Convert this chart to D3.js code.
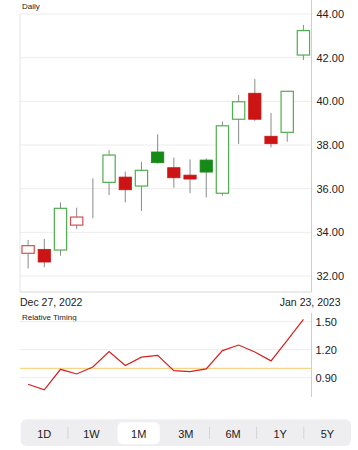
<!DOCTYPE html>
<html>
<head>
<meta charset="utf-8">
<script src="https://cdn.jsdelivr.net/npm/d3@7"></script>
<style>
  body { margin: 0; background: #fff; font-family: "Liberation Sans", Arial, sans-serif; }
  svg { display: block; }
  .grid line { stroke: #ececec; }
  .axis text { fill: #222; font-size: 11px; }
</style>
</head>
<body>
<div id="chart"></div>
<script>
// trading days
var dates = ["Dec 27, 2022", "Dec 28, 2022", "Dec 29, 2022", "Dec 30, 2022", "Jan 3, 2023", "Jan 4, 2023",
    "Jan 5, 2023", "Jan 6, 2023", "Jan 9, 2023", "Jan 10, 2023", "Jan 11, 2023", "Jan 12, 2023",
    "Jan 13, 2023", "Jan 17, 2023", "Jan 18, 2023", "Jan 19, 2023", "Jan 20, 2023", "Jan 23, 2023"];
var opens  = [33.04, 33.22, 33.19, 34.33, 35.68, 36.29, 36.53, 36.12, 37.68, 36.96, 36.62, 37.31, 35.79, 39.18, 40.37, 38.40, 38.58, 42.12];
var highs  = [33.65, 33.69, 35.37, 35.13, 36.47, 37.77, 36.78, 37.23, 38.49, 37.42, 37.34, 37.39, 39.07, 40.29, 41.02, 39.47, 40.46, 43.50];
var lows   = [32.35, 32.40, 32.93, 34.14, 34.64, 35.71, 35.37, 34.98, 37.15, 36.04, 35.79, 35.60, 35.68, 38.05, 39.10, 37.89, 38.15, 41.89];
var closes = [33.39, 32.64, 35.10, 34.70, 35.68, 37.54, 35.95, 36.84, 37.19, 36.50, 36.44, 36.76, 38.88, 39.98, 39.18, 38.06, 40.46, 43.24];
var prevClose0 = 33.60;
var timing = [0.83, 0.77, 0.99, 0.94, 1.015, 1.18, 1.03, 1.12, 1.14, 0.975, 0.965, 0.995, 1.19, 1.25, 1.175, 1.08, 1.30, 1.525];
var priceTicks = [32, 34, 36, 38, 40, 42, 44];
var timingTicks = [0.9, 1.2, 1.5];
var ranges = ["1D", "1W", "1M", "3M", "6M", "1Y", "5Y"];
var selectedRange = "1M";

var W = 358, H = 450;
var left = 20, right = 311.5;

var svg = d3.select("#chart").append("svg")
    .attr("width", W)
    .attr("height", H);

var x = d3.scaleBand()
    .domain(dates)
    .range([left, right])
    .paddingInner(0.18)
    .paddingOuter(0.09);

// ---- price panel ----
var y = d3.scaleLinear().domain([32, 44]).range([276, 14]);
var priceBottom = 292;

svg.append("text")
    .attr("x", 22).attr("y", 9)
    .style("font-size", "8px").style("fill", "#222")
    .text("Daily");

svg.append("g").attr("class", "grid")
    .selectAll("line").data(priceTicks).join("line")
    .attr("x1", left).attr("x2", right)
    .attr("y1", d => y(d)).attr("y2", d => y(d));

// frame
svg.append("line").attr("x1", left).attr("x2", left).attr("y1", 14).attr("y2", priceBottom).attr("stroke", "#e4e4e4");
svg.append("line").attr("x1", left).attr("x2", right).attr("y1", priceBottom).attr("y2", priceBottom).attr("stroke", "#d8d8d8");

var yAxis = d3.axisRight(y).tickValues(priceTicks).tickFormat(d3.format(".2f")).tickSize(0).tickPadding(5);
var gy = svg.append("g").attr("class", "axis")
    .attr("transform", "translate(" + right + ",0)")
    .call(yAxis);
gy.select(".domain").remove();
svg.append("line").attr("x1", right).attr("x2", right).attr("y1", 0).attr("y2", priceBottom).attr("stroke", "#cfcfcf");

var candles = dates.map((d, i) => ({
    date: d, open: opens[i], high: highs[i], low: lows[i], close: closes[i],
    prev: i === 0 ? prevClose0 : closes[i - 1]
}));

var upColor = "#168a16", downColor = "#cc1414";
var hollowUp = "#4fae4f", hollowDown = "#d65050";

var cg = svg.append("g");
cg.selectAll(".wick").data(candles).join("line")
    .attr("class", "wick")
    .attr("x1", d => x(d.date) + x.bandwidth() / 2)
    .attr("x2", d => x(d.date) + x.bandwidth() / 2)
    .attr("y1", d => y(d.high))
    .attr("y2", d => y(d.low))
    .attr("stroke", "#8a8a8a");

cg.selectAll(".body").data(candles).join("rect")
    .attr("class", "body")
    .attr("x", d => x(d.date) + 0.5)
    .attr("width", x.bandwidth() - 1)
    .attr("y", d => y(Math.max(d.open, d.close)))
    .attr("height", d => Math.abs(y(d.open) - y(d.close)))
    .attr("fill", d => d.close >= d.open ? "#fff" : (d.close >= d.prev ? upColor : downColor))
    .attr("stroke", d => {
        var up = d.close >= d.prev;
        if (d.close === d.open) return "#b5deb5";
        if (d.close >= d.open) return up ? hollowUp : hollowDown;
        return up ? upColor : downColor;
    })
    .attr("stroke-width", d => d.close === d.open ? 0.6 : (d.close > d.open ? 1.2 : 0.8));

svg.append("text").attr("x", left).attr("y", 306)
    .style("font-size", "10.5px").style("fill", "#222")
    .text(dates[0]);
svg.append("text").attr("x", 340.5).attr("y", 306).attr("text-anchor", "end")
    .style("font-size", "10.5px").style("fill", "#222")
    .text(dates[dates.length - 1]);

// ---- relative timing panel ----
var y2 = d3.scaleLinear().domain([0.9, 1.5]).range([377.7, 321.7]);

svg.append("text")
    .attr("x", 22).attr("y", 320)
    .style("font-size", "8px").style("fill", "#222")
    .text("Relative Timing");

svg.append("g").attr("class", "grid")
    .selectAll("line").data(timingTicks).join("line")
    .attr("x1", left).attr("x2", right)
    .attr("y1", d => y2(d)).attr("y2", d => y2(d));

svg.append("line")
    .attr("x1", left).attr("x2", right)
    .attr("y1", y2(1)).attr("y2", y2(1))
    .attr("stroke", "#f7d488").attr("stroke-width", 1.2);

var gy2 = svg.append("g").attr("class", "axis")
    .attr("transform", "translate(" + right + ",0)")
    .call(d3.axisRight(y2).tickValues(timingTicks).tickFormat(d3.format(".2f")).tickSize(0).tickPadding(4));
gy2.select(".domain").remove();
svg.append("line").attr("x1", right).attr("x2", right).attr("y1", 313).attr("y2", 397).attr("stroke", "#cfcfcf");

var line = d3.line()
    .x((d, i) => x(dates[i]) + x.bandwidth() / 2)
    .y(d => y2(d));

svg.append("path")
    .datum(timing)
    .attr("d", line)
    .attr("fill", "none")
    .attr("stroke", "#d42020")
    .attr("stroke-width", 1.2);

// ---- range selector ----
var seg = d3.scaleBand().domain(ranges).range([20.7, 351]);
var bar = svg.append("g");
bar.append("rect")
    .attr("x", 20.7).attr("y", 419.3)
    .attr("width", 330.3).attr("height", 26.7)
    .attr("rx", 6).attr("fill", "#eeeef0");

bar.append("rect")
    .attr("x", seg(selectedRange) + 2.5).attr("y", 422.3)
    .attr("width", seg.bandwidth() - 5).attr("height", 22)
    .attr("rx", 5).attr("fill", "#fff");

var selIdx = ranges.indexOf(selectedRange);
bar.selectAll(".sep").data(ranges.slice(1).filter((d, i) => i + 1 !== selIdx && i !== selIdx))
    .join("line")
    .attr("class", "sep")
    .attr("x1", d => seg(d)).attr("x2", d => seg(d))
    .attr("y1", 427).attr("y2", 439)
    .attr("stroke", "#d4d4d8");

bar.selectAll(".lbl").data(ranges).join("text")
    .attr("class", "lbl")
    .attr("x", d => seg(d) + seg.bandwidth() / 2)
    .attr("y", 438)
    .attr("text-anchor", "middle")
    .style("font-size", "11px").style("fill", "#222")
    .text(d => d);
</script>
</body>
</html>
